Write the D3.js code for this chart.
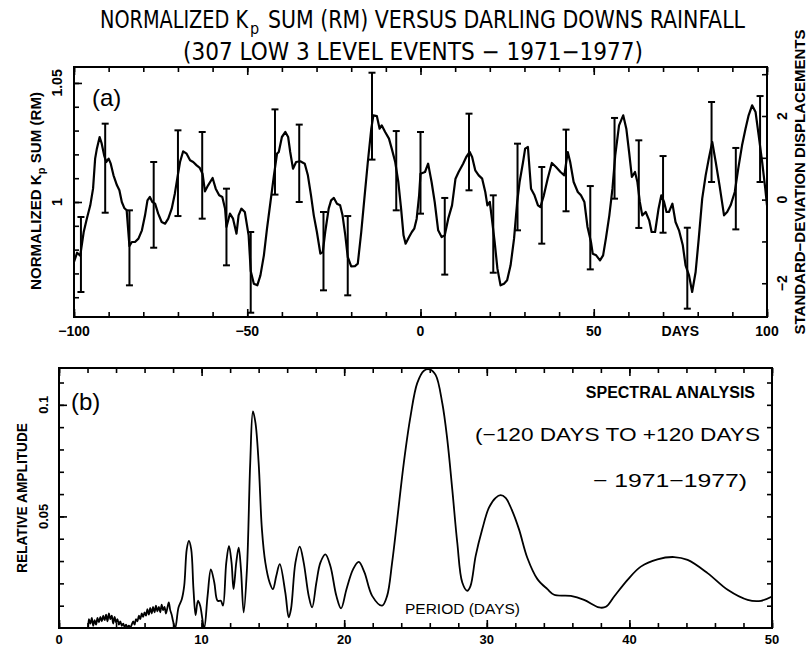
<!DOCTYPE html>
<html>
<head>
<meta charset="utf-8">
<script src="https://cdn.jsdelivr.net/npm/d3@7"></script>
<style>
  body { margin: 0; background: #fff; }
  svg { display: block; }
  text { font-family: "Liberation Sans", Arial, sans-serif; fill: #000; }
  .title { font-family: "Liberation Sans Narrow", "DejaVu Sans Condensed", sans-serif; font-size: 24px; }
  .tick-lbl { font-weight: bold; font-size: 14px; }
  .ax-lbl { font-weight: bold; font-size: 15px; }
</style>
</head>
<body>
<svg id="chart"></svg>
<script>
// ---- panel (a): normalized Kp sum, days relative to rainfall event ----
const kpDays = [-100, -99.1, -98.2, -97.2, -96.3, -95.3, -94.5, -93.9, -93.4, -92.6, -92.0, -91.3, -90.7, -90.0, -89.4,
  -88.6, -87.6, -86.9, -86.2, -85.5, -84.8, -84.0, -83.3, -82.4, -81.4, -80.4, -79.5, -78.8, -78.1, -77.4, -76.6,
  -75.7, -74.7, -73.7, -72.8, -71.8, -70.9, -70.2, -69.4, -68.5, -67.5, -66.5, -65.6, -64.6, -63.7, -62.9, -62.2,
  -61.3, -60.0, -59.1, -58.1, -57.2, -56.4, -56.0, -55.0, -54.1, -53.1, -52.5, -51.7, -50.7, -49.6, -49.0, -48.1,
  -47.1, -46.2, -45.2, -44.3, -43.3, -42.3, -41.4, -40.9, -40.0, -39.0, -38.2, -37.6, -36.8, -35.9, -34.7, -33.4,
  -32.5, -31.6, -30.8, -29.9, -28.9, -28.2, -27.5, -26.5, -25.8, -25.0, -24.1, -23.2, -22.5, -21.7, -21.0, -20.0,
  -18.9, -18.1, -17.1, -16.2, -15.2, -14.2, -13.6, -12.6, -11.8, -11.2, -10.2, -9.1, -8.3, -7.3, -6.4, -5.6, -4.9,
  -4.3, -3.3, -2.5, -1.8, -1.1, -0.4, 0.0, 1.3, 2.2, 3.2, 4.1, 5.1, 6.1, 7.0, 8.0, 9.1, 10.1, 11.0, 12.3, 13.2,
  14.2, 14.9, 15.8, 16.8, 17.8, 18.7, 19.3, 20.0, 20.6, 21.4, 22.2, 23.1, 24.1, 25.0, 26.0, 27.0, 27.9, 28.6, 29.6,
  30.2, 31.0, 31.9, 32.9, 33.9, 34.6, 35.6, 36.7, 37.9, 39.1, 40.4, 41.5, 42.5, 43.2, 44.2, 45.4, 46.3, 47.3, 48.2,
  49.2, 49.7, 50.7, 51.8, 52.7, 53.5, 54.5, 55.4, 56.2, 57.3, 58.5, 59.4, 60.2, 61.0, 61.9, 62.6, 63.3, 64.0, 65.0,
  66.0, 66.7, 67.7, 68.7, 69.5, 70.3, 71.0, 71.7, 72.7, 73.6, 74.6, 75.7, 76.5, 77.5, 78.4, 79.4, 80.3, 81.3, 82.3,
  83.2, 84.2, 85.2, 86.3, 87.6, 88.5, 89.5, 90.7, 91.7, 92.8, 93.8, 94.7, 95.7, 96.7, 97.6, 98.6, 99.5, 100];
const kpValues = [0.9748, 0.9787, 0.9775, 0.9874, 0.9930, 0.9986, 1.0056, 1.0182, 1.0224, 1.0273, 1.0245, 1.0196, 1.0168, 1.0182, 1.0161,
  1.0112, 1.0070, 1.0049, 1.0000, 0.9975, 0.9965, 0.9815, 0.9832, 0.9832, 0.9846, 0.9881, 0.9944, 1.0007, 1.0021, 1.0000, 0.9993,
  0.9951, 0.9916, 0.9909, 0.9930, 0.9972, 1.0035, 1.0098, 1.0168, 1.0213, 1.0203, 1.0175, 1.0168, 1.0154, 1.0143, 1.0119, 1.0045,
  1.0070, 1.0101, 1.0056, 1.0028, 1.0021, 0.9972, 0.9895, 0.9951, 0.9930, 0.9867, 0.9944, 0.9972, 0.9958, 0.9860, 0.9710, 0.9657,
  0.9650, 0.9692, 0.9776, 0.9888, 1.0000, 1.0112, 1.0203, 1.0210, 1.0273, 1.0294, 1.0273, 1.0210, 1.0140, 1.0168, 1.0171, 1.0161,
  1.0112, 1.0028, 0.9944, 0.9874, 0.9783, 0.9790, 0.9874, 0.9972, 1.0007, 1.0017, 0.9993, 0.9986, 0.9944, 0.9860, 0.9769, 0.9730,
  0.9731, 0.9741, 0.9874, 1.0014, 1.0168, 1.0308, 1.0364, 1.0361, 1.0308, 1.0322, 1.0294, 1.0266, 1.0224, 1.0168, 1.0084, 0.9972, 0.9860,
  0.9825, 0.9853, 0.9874, 0.9888, 0.9930, 1.0028, 1.0119, 1.0126, 1.0161, 1.0084, 1.0000, 0.9881, 0.9853, 0.9860, 0.9930, 0.9986, 1.0098, 1.0126, 1.0161, 1.0189,
  1.0210, 1.0189, 1.0133, 1.0112, 1.0098, 1.0042, 0.9986, 1.0000, 0.9930, 0.9832, 0.9720, 0.9650, 0.9657, 0.9671, 0.9734, 0.9846, 1.0000, 1.0084, 1.0168,
  1.0224, 1.0231, 1.0056, 1.0028, 0.9986, 0.9979, 1.0028, 1.0098, 1.0164, 1.0147, 1.0126, 1.0112, 1.0210, 1.0168, 1.0084, 1.0042, 1.0028, 1.0000, 0.9895,
  0.9832, 0.9783, 0.9776, 0.9755, 0.9776, 0.9846, 0.9944, 1.0056, 1.0196, 1.0322, 1.0364, 1.0308, 1.0210, 1.0105, 1.0126, 1.0084, 1.0000, 0.9944, 0.9958,
  0.9923, 0.9874, 0.9874, 0.9972, 1.0028, 1.0000, 0.9958, 0.9958, 0.9993, 0.9916, 0.9881, 0.9818, 0.9734, 0.9692, 0.9622, 0.9706, 0.9846, 1.0014, 1.0112,
  1.0182, 1.0252, 1.0168, 1.0070, 0.9944, 0.9958, 0.9986, 1.0042, 1.0140, 1.0238, 1.0308, 1.0364, 1.0406, 1.0378, 1.0280, 1.0168, 1.0056, 0.9986];

// error bars every 7 days
const barDays = [-98, -91, -84, -77, -70, -63, -56, -49, -42, -35, -28, -21, -14, -7, 0, 7, 14, 21, 28, 35, 42, 49, 56, 63, 70, 77, 84, 91, 98];
const barLow  = [0.9622, 0.9955, 0.9650, 0.9808, 0.9941, 0.9930, 0.9734, 0.9535, 1.0031, 1.0000, 0.9629, 0.9608, 1.0178, 0.9965, 0.9951,
  0.9695, 1.0049, 0.9703, 0.9881, 0.9825, 0.9961, 0.9717, 1.0014, 0.9891, 0.9871, 0.9552, 1.0084, 0.9885, 1.0084];
const barHigh = [0.9937, 1.0329, 0.9965, 1.0168, 1.0301, 1.0294, 1.0056, 0.9874, 1.0389, 1.0325, 0.9958, 0.9941, 1.0543, 1.0298, 1.0294,
  1.0017, 1.0371, 1.0028, 1.0245, 1.0147, 1.0304, 1.0067, 1.0353, 1.0259, 1.0193, 0.9892, 1.0420, 1.0227, 1.0445];

const dayTicks = [-100, -50, 0, 50, 100];
const kpTicks = [1, 1.05];
const sdTicks = [-2, 0, 2];
const sdMean = 1.001, sdStep = 0.01756;   // right axis: 1 standard deviation in Kp units

// ---- panel (b): spectral analysis ----
const periodDays = [2.05, 2.1, 2.2, 2.3, 2.4, 2.5, 2.6, 2.7, 2.8, 2.9, 3.0, 3.1, 3.2, 3.3, 3.4, 3.5, 3.6, 3.7, 3.8, 3.9,
  4.0, 4.1, 4.2, 4.3, 4.4, 4.5, 4.6, 4.7, 4.8, 4.9, 5.0, 5.1, 5.2, 5.3, 5.4, 5.5, 5.6, 5.7, 5.8, 5.9,
  6.0, 6.1, 6.2, 6.3, 6.4, 6.5, 6.6, 6.7, 6.8, 6.9, 7.0, 7.1, 7.2, 7.3, 7.4, 7.5, 7.6, 7.7, 7.8, 7.9, 8.0, 8.15,
  8.38, 8.61, 8.78, 8.96, 9.11, 9.27, 9.43, 9.58, 9.74, 9.9, 10.18, 10.42, 10.65, 10.89, 11.12, 11.35, 11.5, 11.73,
  11.92, 12.1, 12.24, 12.43, 12.6, 12.76, 12.95, 13.18, 13.41, 13.6, 13.78, 14.0, 14.23, 14.47, 14.77, 15.0, 15.24,
  15.48, 15.87, 16.11, 16.27, 16.58, 16.88, 17.16, 17.51, 17.75, 18.05, 18.33, 18.68, 19.03, 19.45, 19.78, 20.16,
  20.62, 21.02, 21.42, 21.96, 22.66, 23.01, 23.36, 23.72, 24.18, 24.65, 25.12, 25.59, 25.99, 26.41, 26.88, 27.23,
  27.58, 27.93, 28.28, 28.63, 28.86, 29.22, 29.68, 30.15, 30.62, 30.97, 31.32, 31.79, 32.26, 32.84, 33.55, 34.25,
  34.72, 35.89, 36.82, 37.88, 38.35, 38.93, 39.87, 40.8, 41.97, 43.14, 44.08, 45.48, 46.89, 48.29, 49.23, 50.0];
const amplitude = [0.0003, 0.004, 0.002, 0.0045, 0.001, 0.0035, 0.0015, 0.0045, 0.0025, 0.005, 0.003, 0.0055, 0.0035, 0.006, 0.003, 0.0065, 0.004, 0.0055, 0.002, 0.005,
  0.0025, 0.004, 0.0015, 0.003, 0.001, 0.002, 0.0005, 0.0015, 0.0003, 0.001, 0.0002, 0.0015, 0.003, 0.0015, 0.004, 0.003, 0.0055, 0.004, 0.0065, 0.005,
  0.007, 0.0055, 0.0085, 0.006, 0.009, 0.0065, 0.0095, 0.007, 0.010, 0.0075, 0.0095, 0.007, 0.0105, 0.008, 0.0095, 0.0065, 0.009, 0.0115, 0.008, 0.006, 0.003, 0.0,
  0.0092, 0.0129, 0.0189, 0.0353, 0.039, 0.0353, 0.0174, 0.0058, 0.0122, 0.010, 0.0, 0.0144, 0.0263, 0.0204, 0.0122, 0.0122, 0.010, 0.0293,
  0.0368, 0.0293, 0.0174, 0.0293, 0.036, 0.0263, 0.007, 0.0263, 0.074, 0.097, 0.0918, 0.074, 0.0442, 0.0293, 0.0204, 0.0174, 0.0234,
  0.0286, 0.0159, 0.0048, 0.0085, 0.0293, 0.0365, 0.0293, 0.0144, 0.0092, 0.0204, 0.0293, 0.033, 0.0278, 0.0144, 0.0088, 0.0174,
  0.0263, 0.0296, 0.0249, 0.0144, 0.010, 0.0144, 0.0293, 0.0487, 0.074, 0.0948, 0.1097, 0.1153, 0.1159, 0.1134, 0.1007, 0.0844,
  0.062, 0.0382, 0.0204, 0.0167, 0.0189, 0.0323, 0.0442, 0.0539, 0.0583, 0.0595, 0.0583, 0.0524, 0.0442, 0.0315, 0.0219, 0.0174,
  0.0149, 0.0144, 0.0126, 0.0092, 0.0095, 0.0141, 0.0216, 0.0275, 0.0308, 0.0318, 0.0305, 0.0246, 0.0171, 0.0126, 0.0122, 0.0141];

const periodTicks = [0, 10, 20, 30, 40, 50];
const ampTicks = [0.05, 0.1];

// ---------------------------------------------------------------
const svg = d3.select('#chart').attr('width', 808).attr('height', 649);

// plot boxes
const boxA = {left: 74, right: 767, top: 67, bottom: 317};
const boxB = {left: 59, right: 772, top: 368, bottom: 628};

const xDay = d3.scaleLinear().domain([-100, 100]).range([boxA.left, boxA.right]);
const yKp = d3.scaleLinear().domain([0.9517, 1.0567]).range([boxA.bottom, boxA.top]);
const ySd = d3.scaleLinear()
  .domain(yKp.domain().map(v => (v - sdMean) / sdStep))
  .range([boxA.bottom, boxA.top]);

const xPer = d3.scaleLinear().domain([0, 50]).range([boxB.left, boxB.right]);
const yAmp = d3.scaleLinear().domain([0, 0.1165]).range([boxB.bottom, boxB.top]);

// inward ticks, no labels (labels drawn by hand so they can be rotated)
function tickAxis(axisFn, scale, vals, size, tx, ty) {
  svg.append('g')
    .attr('transform', `translate(${tx},${ty})`)
    .call(axisFn(scale).tickValues(vals).tickSize(-size).tickSizeOuter(0).tickFormat(''))
    .call(g => g.select('.domain').remove())
    .call(g => g.selectAll('line').attr('stroke', '#000').attr('stroke-width', 1.6));
}

// ---- panel (a) ----
const dayMinor = d3.range(-100, 101, 10);
tickAxis(d3.axisBottom, xDay, dayMinor, 5, 0, boxA.bottom);
tickAxis(d3.axisBottom, xDay, dayTicks, 8, 0, boxA.bottom);
tickAxis(d3.axisTop, xDay, dayMinor, 5, 0, boxA.top);
tickAxis(d3.axisTop, xDay, dayTicks, 8, 0, boxA.top);
tickAxis(d3.axisLeft, yKp, d3.range(0.96, 1.055, 0.01), 5, boxA.left, 0);
tickAxis(d3.axisLeft, yKp, kpTicks, 8, boxA.left, 0);
tickAxis(d3.axisRight, ySd, [-2, -1, 0, 1, 2, 3], 5, boxA.right, 0);

svg.append('rect')
  .attr('x', boxA.left).attr('y', boxA.top)
  .attr('width', boxA.right - boxA.left).attr('height', boxA.bottom - boxA.top)
  .attr('fill', 'none').attr('stroke', '#000').attr('stroke-width', 2);

// x tick labels
svg.append('g').selectAll('text')
  .data(dayTicks)
  .join('text')
    .attr('class', 'tick-lbl')
    .attr('x', d => xDay(d))
    .attr('y', 336)
    .attr('text-anchor', 'middle')
    .text(d => d3.format('d')(d).replace('-', '\u2212'));

svg.append('text').attr('class', 'tick-lbl')
  .attr('x', xDay(75)).attr('y', 336).attr('text-anchor', 'middle').text('DAYS');

// left labels (rotated)
svg.append('g').selectAll('text')
  .data(kpTicks)
  .join('text')
    .attr('class', 'tick-lbl')
    .attr('transform', d => `translate(57,${yKp(d)}) rotate(-90)`)
    .attr('text-anchor', 'middle')
    .attr('dy', '0.35em')
    .text(d => d);

const yLabA = svg.append('text').attr('class', 'ax-lbl')
  .attr('transform', `translate(36,191) rotate(-90)`)
  .attr('text-anchor', 'middle').attr('dy', '0.35em')
  .attr('textLength', 198).attr('lengthAdjust', 'spacingAndGlyphs');
yLabA.append('tspan').text('NORMALIZED K');
yLabA.append('tspan').attr('font-size', 11).attr('dy', 4).text('p');
yLabA.append('tspan').attr('dy', -4).text(' SUM (RM)');

// right SD labels
svg.append('g').selectAll('text')
  .data(sdTicks)
  .join('text')
    .attr('class', 'tick-lbl')
    .attr('transform', d => `translate(782,${ySd(d)}) rotate(-90)`)
    .attr('text-anchor', 'middle')
    .attr('dy', '0.35em')
    .text(d => d3.format('d')(d).replace('-', '\u2212'));

svg.append('text').attr('class', 'ax-lbl')
  .attr('transform', `translate(800,182) rotate(-90)`)
  .attr('text-anchor', 'middle').attr('dy', '0.35em')
  .attr('textLength', 305).attr('lengthAdjust', 'spacingAndGlyphs')
  .text('STANDARD\u2212DEVIATION  DISPLACEMENTS');

svg.append('text')
  .attr('x', 92).attr('y', 106)
  .attr('font-size', 24)
  .text('(a)');

// curve
const kpLine = d3.line()
  .x(i => xDay(kpDays[i]))
  .y(i => yKp(kpValues[i]));

svg.append('path')
  .attr('d', kpLine(d3.range(kpDays.length)))
  .attr('fill', 'none').attr('stroke', '#000').attr('stroke-width', 2.2)
  .attr('stroke-linejoin', 'round');

// error bars
const bars = svg.append('g').attr('stroke', '#000').attr('stroke-width', 2);
barDays.forEach((d, i) => {
  const x = xDay(d);
  bars.append('line').attr('x1', x).attr('x2', x).attr('y1', yKp(barLow[i])).attr('y2', yKp(barHigh[i]));
  bars.append('line').attr('x1', x - 3.5).attr('x2', x + 3.5).attr('y1', yKp(barLow[i])).attr('y2', yKp(barLow[i]));
  bars.append('line').attr('x1', x - 3.5).attr('x2', x + 3.5).attr('y1', yKp(barHigh[i])).attr('y2', yKp(barHigh[i]));
});

// titles (line 1 split in pieces so the subscript p sits under its K)
const t1 = svg.append('text').attr('class', 'title').attr('y', 28);
t1.append('tspan').attr('x', 100).attr('textLength', 148).attr('lengthAdjust', 'spacingAndGlyphs').text('NORMALIZED K');
t1.append('tspan').attr('x', 250).attr('y', 34).style('font-size', '16px').text('p');
t1.append('tspan').attr('x', 268).attr('y', 28).attr('textLength', 477).attr('lengthAdjust', 'spacingAndGlyphs')
  .text('SUM (RM) VERSUS DARLING DOWNS RAINFALL');

svg.append('text').attr('class', 'title')
  .attr('x', 413).attr('y', 60).attr('text-anchor', 'middle')
  .attr('textLength', 460).attr('lengthAdjust', 'spacingAndGlyphs')
  .text('(307 LOW 3 LEVEL EVENTS \u2212 1971\u22121977)');

// ---- panel (b) ----
const perMinor = d3.range(0, 51, 2);
tickAxis(d3.axisBottom, xPer, perMinor, 5, 0, boxB.bottom);
tickAxis(d3.axisBottom, xPer, periodTicks, 8, 0, boxB.bottom);
tickAxis(d3.axisTop, xPer, perMinor, 5, 0, boxB.top);
tickAxis(d3.axisTop, xPer, periodTicks, 8, 0, boxB.top);
const ampMinor = d3.range(0.01, 0.115, 0.01);
tickAxis(d3.axisLeft, yAmp, ampMinor, 5, boxB.left, 0);
tickAxis(d3.axisLeft, yAmp, ampTicks, 8, boxB.left, 0);
tickAxis(d3.axisRight, yAmp, ampMinor, 5, boxB.right, 0);

svg.append('rect')
  .attr('x', boxB.left).attr('y', boxB.top)
  .attr('width', boxB.right - boxB.left).attr('height', boxB.bottom - boxB.top)
  .attr('fill', 'none').attr('stroke', '#000').attr('stroke-width', 2);

svg.append('g').selectAll('text')
  .data(periodTicks)
  .join('text')
    .attr('class', 'tick-lbl')
    .style('font-size', '13px')
    .attr('x', d => xPer(d))
    .attr('y', 644)
    .attr('text-anchor', 'middle')
    .text(d => d);

svg.append('g').selectAll('text')
  .data(ampTicks)
  .join('text')
    .attr('class', 'tick-lbl')
    .style('font-size', '13px')
    .attr('transform', d => `translate(43,${yAmp(d)}) rotate(-90)`)
    .attr('text-anchor', 'middle')
    .attr('dy', '0.35em')
    .text(d => d);

svg.append('text').attr('class', 'ax-lbl')
  .attr('transform', `translate(22,498) rotate(-90)`)
  .attr('text-anchor', 'middle').attr('dy', '0.35em')
  .attr('textLength', 150).attr('lengthAdjust', 'spacingAndGlyphs')
  .text('RELATIVE AMPLITUDE');

svg.append('text')
  .attr('x', 71).attr('y', 410)
  .attr('font-size', 24)
  .text('(b)');

svg.append('text')
  .attr('x', 755).attr('y', 398).attr('text-anchor', 'end')
  .attr('font-size', 16).attr('font-weight', 'bold')
  .text('SPECTRAL ANALYSIS');
svg.append('text')
  .attr('x', 760).attr('y', 441).attr('text-anchor', 'end')
  .attr('font-size', 19)
  .attr('textLength', 285).attr('lengthAdjust', 'spacingAndGlyphs')
  .text('(\u2212120 DAYS TO +120 DAYS');
svg.append('text')
  .attr('x', 747).attr('y', 487).attr('text-anchor', 'end')
  .attr('font-size', 19)
  .attr('textLength', 154).attr('lengthAdjust', 'spacingAndGlyphs')
  .text('\u2212 1971\u22121977)');
svg.append('text')
  .attr('x', 405).attr('y', 614)
  .attr('font-size', 14)
  .attr('textLength', 115).attr('lengthAdjust', 'spacingAndGlyphs')
  .text('PERIOD (DAYS)');

const ampLine = d3.line()
  .x(i => xPer(periodDays[i]))
  .y(i => yAmp(amplitude[i]))
  .curve(d3.curveCatmullRom.alpha(0.5));

svg.append('path')
  .attr('d', ampLine(d3.range(periodDays.length)))
  .attr('fill', 'none').attr('stroke', '#000').attr('stroke-width', 1.8)
  .attr('stroke-linejoin', 'round');
</script>
</body>
</html>
